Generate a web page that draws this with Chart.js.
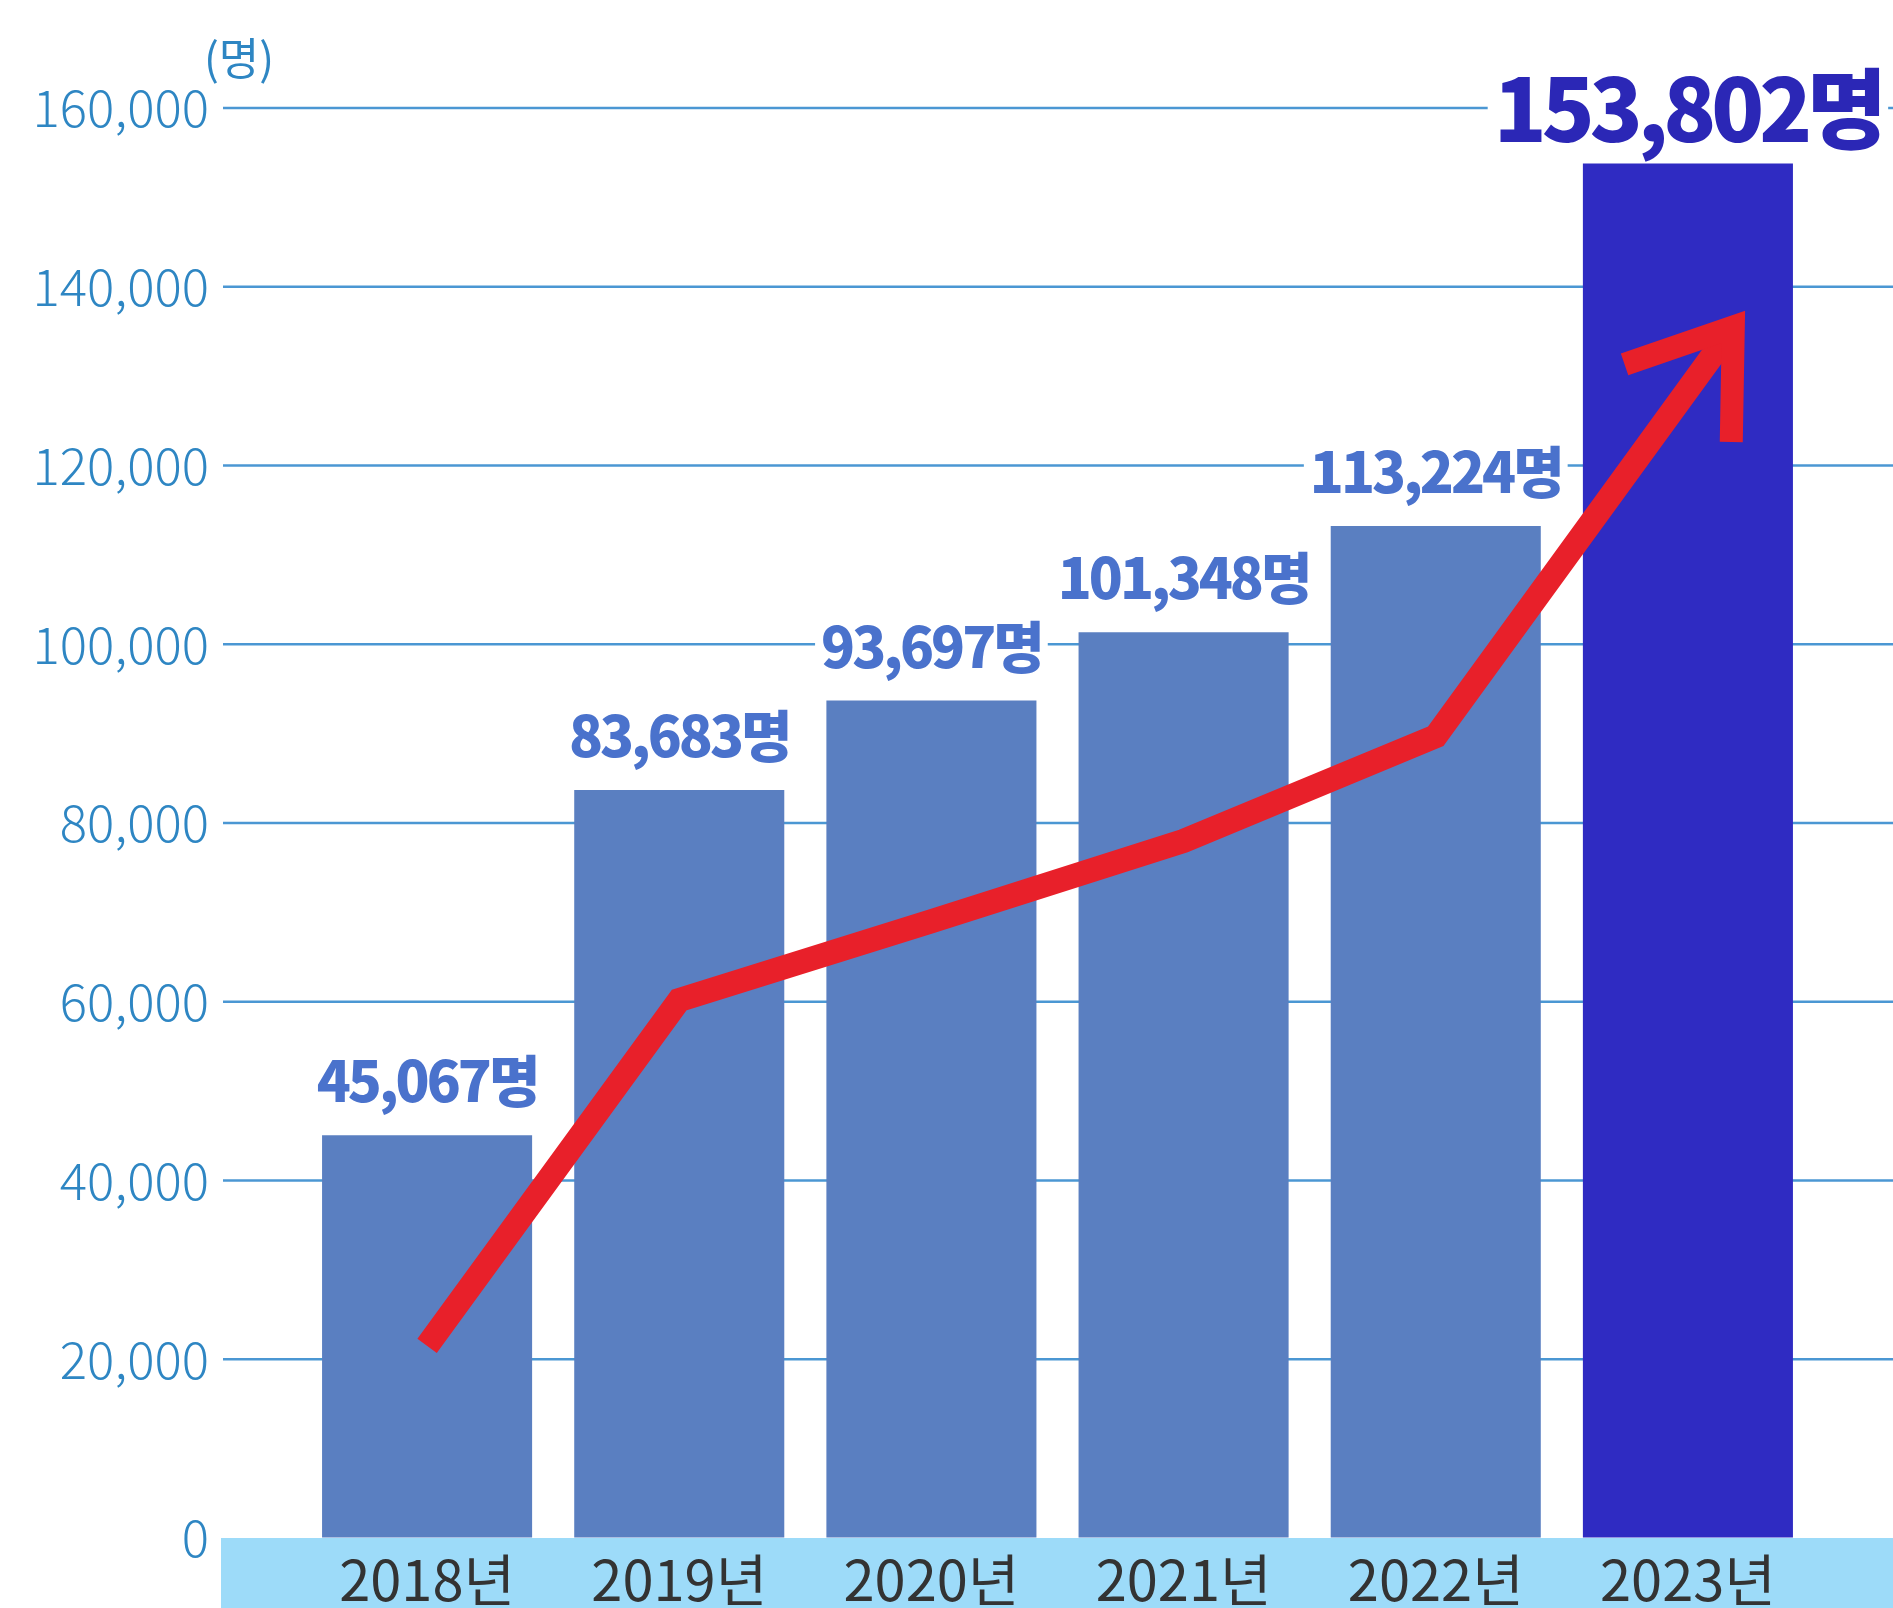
<!DOCTYPE html>
<html>
<head>
<meta charset="utf-8">
<script src="https://cdn.jsdelivr.net/npm/chart.js@4.4.0/dist/chart.umd.min.js"></script>
<style>
  html, body { margin: 0; padding: 0; background: #ffffff; }
  #wrap { width: 1893px; height: 1608px; }
</style>
</head>
<body>
<div id="wrap"><canvas id="c" width="1893" height="1608"></canvas></div>
<script>
// ---- data ----
const categories = ['2018년', '2019년', '2020년', '2021년', '2022년', '2023년'];
const visitors = [45067, 83683, 93697, 101348, 113224, 153802];
const trendX = [0, 1, 2, 3, 4, 5.18];
const trendY = [21500, 60200, 69000, 78000, 89700, 135500];
const yTicks = [0, 20000, 40000, 60000, 80000, 100000, 120000, 140000, 160000];
const unitLabel = '(명)';
const valueSuffix = '명';

// ---- styles ----
const FONT = "'Noto Sans CJK KR', 'Noto Sans', sans-serif";
const TICK_COLOR = '#2e86c3';
const GRID_COLOR = '#4b97d3';
const BAND_COLOR = '#9ddbf9';
const BAR_COLOR = '#5a7fc1';
const BAR_HIGHLIGHT = '#2f2bc2';
const LABEL_COLOR = '#4a72cc';
const LABEL_HIGHLIGHT = '#2b27b6';
const RED = '#e8202a';

const barColors = visitors.map((v, i) => i === visitors.length - 1 ? BAR_HIGHLIGHT : BAR_COLOR);

const decor = {
  id: 'decor',
  beforeDraw(chart) {
    const { ctx, chartArea, scales: { y } } = chart;
    ctx.save();
    ctx.fillStyle = '#ffffff';
    ctx.fillRect(0, 0, chart.width, chart.height);
    const left = chartArea.left - 80;
    const y0 = y.getPixelForValue(0);
    ctx.fillStyle = BAND_COLOR;
    ctx.fillRect(left, y0, chart.width - left, chart.height - y0);
    ctx.restore();
  },
  beforeDatasetsDraw(chart) {
    const { ctx, chartArea, scales: { y } } = chart;
    const left = chartArea.left - 78;
    ctx.save();
    ctx.strokeStyle = GRID_COLOR;
    ctx.lineWidth = 2.5;
    yTicks.forEach(v => {
      if (v === 0) return;
      const py = y.getPixelForValue(v);
      ctx.beginPath();
      ctx.moveTo(left, py);
      ctx.lineTo(chart.width, py);
      ctx.stroke();
    });
    ctx.restore();
  },
  afterDatasetsDraw(chart) {
    const { ctx, chartArea, scales: { y } } = chart;
    ctx.save();
    // arrow head at end of trend line
    const lm = chart.getDatasetMeta(0);
    const pts = lm.data;
    const tip = pts[pts.length - 1], prev = pts[pts.length - 2];
    const back = Math.atan2(prev.y - tip.y, prev.x - tip.x);
    const L = 115, half = 35 * Math.PI / 180;
    ctx.strokeStyle = RED;
    ctx.lineWidth = 23;
    ctx.lineJoin = 'miter';
    ctx.lineCap = 'butt';
    ctx.beginPath();
    ctx.moveTo(tip.x + L * Math.cos(back - half), tip.y + L * Math.sin(back - half));
    ctx.lineTo(tip.x, tip.y);
    ctx.lineTo(tip.x + L * Math.cos(back + half), tip.y + L * Math.sin(back + half));
    ctx.stroke();

    // value labels above bars
    const bm = chart.getDatasetMeta(1);
    bm.data.forEach((bar, i) => {
      const big = i === visitors.length - 1;
      const size = big ? 87 : 56;
      const text = visitors[i].toLocaleString('en-US') + valueSuffix;
      ctx.font = `900 ${size}px ${FONT}`;
      ctx.letterSpacing = big ? '-5px' : '-3px';
      const w = ctx.measureText(text).width;
      const cy = bar.y - 54;
      ctx.fillStyle = '#ffffff';
      ctx.fillRect(bar.x - w / 2 - 6, cy - size * 0.42, w + 12, size * 0.84);
      ctx.fillStyle = big ? LABEL_HIGHLIGHT : LABEL_COLOR;
      ctx.textAlign = 'center';
      ctx.textBaseline = 'middle';
      ctx.fillText(text, bar.x, cy);
    });
    ctx.letterSpacing = '0px';

    // unit label
    ctx.font = `400 44px ${FONT}`;
    ctx.fillStyle = TICK_COLOR;
    ctx.textAlign = 'center';
    ctx.textBaseline = 'middle';
    ctx.fillText(unitLabel, chartArea.left - 62, y.getPixelForValue(yTicks[yTicks.length - 1]) - 50);
    ctx.restore();
  }
};

new Chart(document.getElementById('c'), {
  type: 'bar',
  data: {
    labels: categories,
    datasets: [
      {
        type: 'line',
        data: trendX.map((x, i) => ({ x: x, y: trendY[i] })),
        xAxisID: 'xl',
        yAxisID: 'y',
        borderColor: RED,
        borderWidth: 24,
        borderCapStyle: 'butt',
        borderJoinStyle: 'miter',
        tension: 0,
        pointRadius: 0,
        fill: false,
        order: 0
      },
      {
        type: 'bar',
        data: visitors,
        xAxisID: 'x',
        yAxisID: 'y',
        backgroundColor: barColors,
        borderWidth: 0,
        grouped: false,
        categoryPercentage: 1,
        barPercentage: 0.833,
        order: 1
      }
    ]
  },
  options: {
    responsive: false,
    devicePixelRatio: 1,
    animation: false,
    layout: { padding: { top: 108, right: 79, bottom: 0, left: 0 } },
    plugins: { legend: { display: false }, tooltip: { enabled: false } },
    scales: {
      x: {
        type: 'category',
        offset: true,
        grid: { display: false, drawTicks: false },
        border: { display: false },
        afterFit(scale) { scale.height = 70; },
        ticks: {
          padding: 8,
          color: '#333333',
          font: { family: FONT, size: 56, weight: '400', lineHeight: 1.2 }
        }
      },
      xl: {
        type: 'linear',
        display: false,
        offset: false,
        grid: { offset: false },
        grace: 0,
        bounds: 'data',
        min: -0.5,
        max: 5.5
      },
      y: {
        type: 'linear',
        min: yTicks[0],
        max: yTicks[yTicks.length - 1],
        grid: { display: true, drawOnChartArea: false, drawTicks: true, tickLength: 92, color: 'rgba(0,0,0,0)' },
        border: { display: false },
        afterFit(scale) { scale.width = 301; },
        afterBuildTicks(scale) { scale.ticks = yTicks.map(v => ({ value: v })); },
        ticks: {
          padding: 0,
          color: TICK_COLOR,
          font: { family: FONT, size: 51, weight: '300' },
          callback: v => Number(v).toLocaleString('en-US')
        }
      }
    }
  },
  plugins: [decor]
});
</script>
</body>
</html>
